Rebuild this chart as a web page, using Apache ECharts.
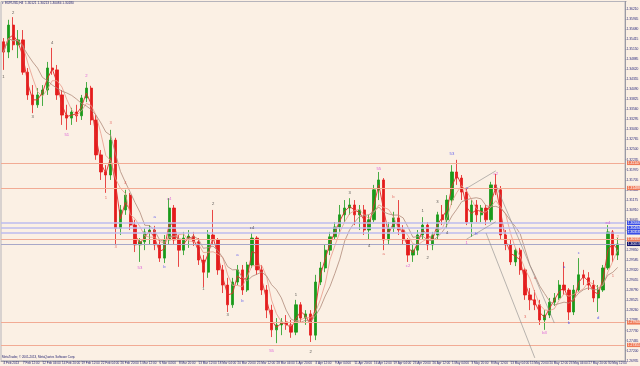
<!DOCTYPE html>
<html><head><meta charset="utf-8">
<script src="https://cdn.jsdelivr.net/npm/echarts@6/dist/echarts.min.js"></script>
<style>html,body{margin:0;padding:0;background:#fbf0e4}#c{width:640px;height:366px}</style>
</head><body><div id="c"></div><script>
// time-axis tick labels (every 16 H4 bars)
const tickLabels = ["4 Feb 2013","7 Feb 12:00","12 Feb 04:00","14 Feb 20:00","19 Feb 12:00","22 Feb 04:00","26 Feb 20:00","1 Mar 12:00","6 Mar 04:00","8 Mar 20:00","13 Mar 12:00","18 Mar 04:00","20 Mar 20:00","25 Mar 12:00","28 Mar 04:00","1 Apr 20:00","4 Apr 12:00","9 Apr 04:00","11 Apr 20:00","16 Apr 12:00","19 Apr 04:00","23 Apr 20:00","26 Apr 12:00","1 May 04:00","3 May 20:00","8 May 12:00","13 May 04:00","15 May 20:00","20 May 12:00","23 May 04:00","27 May 20:00","30 May 12:00"];

// EURUSD candles (each = 4 H4 bars)
const opens = [1.3534,1.3507,1.3578,1.3526,1.3539,1.3454,1.3394,1.3368,1.3394,1.3407,1.3465,1.3460,1.3394,1.3341,1.3333,1.3349,1.3339,1.3386,1.3412,1.3328,1.3236,1.3191,1.3183,1.3275,1.3043,1.3091,1.3130,1.3051,1.2999,1.3007,1.3033,1.3038,1.2999,1.2964,1.3012,1.3096,1.3012,1.2985,1.3017,1.3022,1.3007,1.2959,1.2927,1.3025,1.3012,1.2933,1.2893,1.2841,1.2901,1.2933,1.2880,1.2946,1.3017,1.2933,1.2880,1.2827,1.2775,1.2788,1.2796,1.2788,1.2769,1.2841,1.2806,1.2817,1.2761,1.2901,1.2938,1.2985,1.3020,1.3046,1.3078,1.3096,1.3104,1.3078,1.3091,1.3038,1.3065,1.3144,1.3170,1.3012,1.3043,1.3070,1.3038,1.3012,1.2972,1.2985,1.3025,1.3051,1.2999,1.3025,1.3078,1.3065,1.3117,1.3191,1.3175,1.3138,1.3059,1.3104,1.3078,1.3096,1.3065,1.3157,1.3144,1.3025,1.2999,1.2954,1.2985,1.2933,1.2867,1.2854,1.2841,1.2801,1.2814,1.2848,1.2859,1.2893,1.2880,1.2822,1.2880,1.2920,1.2912,1.2893,1.2859,1.2880,1.2938,1.3033,1.2972];
const highs = [1.3544,1.3592,1.3599,1.3565,1.3565,1.3465,1.3420,1.3412,1.3420,1.3481,1.3518,1.3473,1.3407,1.3368,1.3360,1.3368,1.3394,1.3428,1.3418,1.3341,1.3249,1.3209,1.3302,1.3281,1.3104,1.3144,1.3136,1.3065,1.3017,1.3043,1.3051,1.3049,1.3012,1.3025,1.3122,1.3104,1.3025,1.3033,1.3038,1.3033,1.3017,1.2972,1.3038,1.3091,1.3017,1.2946,1.2912,1.2912,1.2946,1.2946,1.2954,1.3030,1.3022,1.2946,1.2893,1.2841,1.2806,1.2806,1.2814,1.2801,1.2854,1.2848,1.2827,1.2827,1.2920,1.2954,1.2999,1.3033,1.3059,1.3104,1.3117,1.3122,1.3117,1.3104,1.3104,1.3078,1.3157,1.3191,1.3175,1.3059,1.3086,1.3117,1.3051,1.3017,1.2999,1.3038,1.3072,1.3059,1.3033,1.3086,1.3104,1.3130,1.3209,1.3223,1.3183,1.3149,1.3117,1.3117,1.3104,1.3104,1.3165,1.3186,1.3154,1.3038,1.3012,1.2991,1.2991,1.2938,1.2885,1.2880,1.2854,1.2827,1.2859,1.2872,1.2906,1.2954,1.2885,1.2893,1.2964,1.2933,1.2927,1.2906,1.2893,1.2946,1.3051,1.3038,1.3017];
const lows = [1.3460,1.3491,1.3512,1.3491,1.3447,1.3381,1.3346,1.3360,1.3365,1.3394,1.3447,1.3381,1.3315,1.3302,1.3315,1.3323,1.3328,1.3375,1.3315,1.3223,1.3170,1.3136,1.3170,1.2999,1.3025,1.3078,1.3038,1.2980,1.2954,1.2985,1.2999,1.2985,1.2954,1.2951,1.2999,1.2999,1.2941,1.2972,1.2991,1.2996,1.2946,1.2888,1.2912,1.2999,1.2920,1.2872,1.2822,1.2833,1.2893,1.2867,1.2875,1.2938,1.2920,1.2867,1.2806,1.2756,1.2740,1.2761,1.2775,1.2754,1.2761,1.2796,1.2788,1.2743,1.2748,1.2893,1.2927,1.2972,1.3012,1.3033,1.3059,1.3078,1.3051,1.3038,1.3025,1.3012,1.3059,1.3117,1.2985,1.2999,1.3033,1.3025,1.2999,1.2954,1.2954,1.2972,1.3012,1.2985,1.2985,1.3012,1.3051,1.3043,1.3104,1.3157,1.3117,1.3051,1.3020,1.3059,1.3059,1.3051,1.3059,1.3130,1.3012,1.2985,1.2946,1.2943,1.2920,1.2854,1.2827,1.2827,1.2788,1.2775,1.2806,1.2838,1.2854,1.2867,1.2801,1.2814,1.2875,1.2893,1.2880,1.2848,1.2822,1.2875,1.2933,1.2954,1.2959];
const closes = [1.3507,1.3578,1.3526,1.3539,1.3454,1.3394,1.3368,1.3394,1.3407,1.3465,1.3460,1.3394,1.3341,1.3333,1.3349,1.3339,1.3386,1.3412,1.3328,1.3236,1.3191,1.3183,1.3275,1.3043,1.3091,1.3130,1.3051,1.2999,1.3007,1.3033,1.3038,1.2999,1.2964,1.3012,1.3096,1.3012,1.2985,1.3017,1.3022,1.3007,1.2959,1.2927,1.3025,1.3012,1.2933,1.2893,1.2841,1.2901,1.2933,1.2880,1.2946,1.3017,1.2933,1.2880,1.2827,1.2775,1.2788,1.2796,1.2788,1.2769,1.2841,1.2806,1.2817,1.2761,1.2901,1.2938,1.2985,1.3020,1.3046,1.3078,1.3096,1.3104,1.3078,1.3091,1.3038,1.3065,1.3144,1.3170,1.3012,1.3043,1.3070,1.3038,1.3012,1.2972,1.2985,1.3025,1.3051,1.2999,1.3025,1.3078,1.3065,1.3117,1.3191,1.3175,1.3138,1.3059,1.3104,1.3078,1.3096,1.3065,1.3157,1.3144,1.3025,1.2999,1.2954,1.2985,1.2933,1.2867,1.2854,1.2841,1.2801,1.2814,1.2848,1.2859,1.2893,1.2880,1.2822,1.2880,1.2920,1.2912,1.2893,1.2859,1.2880,1.2938,1.3033,1.2972,1.3001];

// price-axis ticks
const yMin = 1.26935, yMax = 1.36402, yStep = 0.00265;

// horizontal levels and their kind
const levelPrices = [1.32147,1.31488,1.30566,1.30434,1.30316,1.30131,1.30013,1.27944,1.27351];
const levelKinds  = ['sr','sr','zone','zone','zone','sr','bid','sr','sr'];

// trend lines [startIndex, startPrice, endIndex, endPrice]
const trendLines = [[95.0,1.3148,101.2,1.3194],[95.0,1.3014,100.8,1.3060],[100.8,1.3157,112.5,1.2793],[99.2,1.3030,109.2,1.2701]];

// wave labels [index, price, text, degree]
const waves = [[0,1.3441,'1','k'],[2,1.3610,'2','k'],[6,1.3335,'3','k'],[10,1.3531,'4','k'],[13,1.3288,'51','m'],[17,1.3444,'2','m'],[21,1.3122,'1','r'],[22,1.3320,'3','r'],[23,1.2993,'3','r'],[25,1.3162,'4','r'],[28,1.2938,'53','m'],[31,1.3072,'a','b'],[33,1.2941,'b','b'],[34,1.3120,'c4','m'],[41,1.2883,'1','k'],[43,1.3107,'2','k'],[46,1.2814,'3','k'],[48,1.2972,'a','b'],[49,1.2851,'b','b'],[51,1.3043,'c4','k'],[55,1.2719,'55','m'],[60,1.2867,'1','k'],[63,1.2717,'2','k'],[71,1.3136,'3','k'],[75,1.2996,'4','k'],[77,1.3199,'55','m'],[78,1.2975,'a','r'],[80,1.3125,'b','r'],[83,1.2943,'c2','m'],[86,1.3088,'1','k'],[87,1.2964,'2','k'],[89,1.3112,'3','k'],[91,1.3030,'4','k'],[92,1.3238,'53','b'],[95,1.3149,'a','b'],[95,1.3004,'1','m'],[97,1.3028,'b','b'],[101,1.3186,'c2','m'],[107,1.2809,'3','r'],[109,1.2912,'a','r'],[111,1.2767,'b3','m'],[115,1.2941,'a','b'],[116,1.2793,'b','b'],[118,1.2978,'c','b'],[122,1.2806,'d','b'],[124,1.3057,'e4','m'],[125,1.2917,'1','r'],[126,1.3020,'2','r']];

const titleText = '\u25BE EURUSD,H4  1.30121 1.30213 1.30084 1.30180';
const copyText = 'MetaTrader, \u00A9 2001-2013, MetaQuotes Software Corp.';

// ---- build ----
const nCat = 128;
const categories = [];
for (let i = 0; i < nCat; i++) {
  categories.push(i % 4 === 0 && tickLabels[i / 4] ? tickLabels[i / 4] : 'c#' + i);
}
const candleData = opens.map((o, i) => [o, closes[i], lows[i], highs[i]]);
function ma(n) {
  return closes.map((v, i) => {
    const s = Math.max(0, i - n + 1);
    let sum = 0;
    for (let j = s; j <= i; j++) sum += closes[j];
    return +(sum / (i - s + 1)).toFixed(5);
  });
}
const levelStyle = {
  sr:   {line: '#f2ab94', w: 1,   tag: '#f07a58'},
  zone: {line: '#bcbcef', w: 1.6, tag: '#3a4ee6'},
  bid:  {line: '#a8a8c8', w: 1,   tag: '#16166e'}
};
const waveColor = {k: '#303030', m: '#d63cd6', r: '#e0504a', b: '#3c3cf0'};

const markData = levelPrices.map((p, i) => {
  const st = levelStyle[levelKinds[i]];
  return {
    yAxis: p,
    lineStyle: {color: st.line, width: st.w, type: 'solid'},
    label: {show: true, position: 'end', distance: 2, formatter: p.toFixed(5),
      color: '#ffffff', backgroundColor: st.tag, fontSize: 3.3, padding: [0.6, 0.8],
      fontFamily: 'Liberation Sans'}
  };
});
trendLines.forEach(t => {
  markData.push([
    {coord: [t[0], t[1]], lineStyle: {color: '#8a8a8a', width: 0.6, type: 'solid'}, label: {show: false}},
    {coord: [t[2], t[3]]}
  ]);
});

const chart = echarts.init(document.getElementById('c'), null, {renderer: 'canvas'});
chart.setOption({
  animation: false,
  backgroundColor: '#fbf0e4',
  grid: {left: 1, right: 15, top: 1.5, height: 359.28, show: true, outerBoundsMode: 'none', containLabel: false,
    borderColor: '#a4a4b0', borderWidth: 0.8, backgroundColor: 'transparent'},
  xAxis: {
    type: 'category', data: categories, boundaryGap: true,
    axisLine: {show: true, lineStyle: {color: '#8c8c98', width: 0.8}},
    axisTick: {show: true, interval: 3, alignWithLabel: true, length: 1.5, lineStyle: {color: '#8c8c98', width: 0.6}},
    axisLabel: {interval: 3, align: 'left', fontSize: 3.1, color: '#26267a', margin: 1.2, fontFamily: 'Liberation Sans',
      formatter: v => (v.indexOf('#') < 0 ? v : '')},
    splitLine: {show: false}
  },
  yAxis: {
    type: 'value', position: 'right', min: yMin, max: yMax, interval: yStep, scale: true,
    axisLine: {show: true, lineStyle: {color: '#8c8c98', width: 0.8}},
    axisTick: {show: true, length: 1.5, lineStyle: {color: '#8c8c98', width: 0.6}},
    axisLabel: {fontSize: 3.3, color: '#26267a', margin: 1.5, fontFamily: 'Liberation Sans',
      formatter: v => {
        const k = (v - yMin) / yStep;
        return Math.abs(k - Math.round(k)) < 1e-4 ? v.toFixed(5) : '';
      }},
    splitLine: {show: false}
  },
  graphic: [
    {type: 'text', left: 2, top: 2, style: {text: titleText, fill: '#1e1e6e', font: '3.2px "Liberation Sans"'}},
    {type: 'text', left: 2, top: 355.5, style: {text: copyText, fill: '#1e1e6e', font: '3px "Liberation Sans"'}}
  ],
  series: [
    {
      type: 'candlestick', data: candleData, barWidth: '58%',
      itemStyle: {color: '#1a9a1a', color0: '#e41c1c', borderColor: '#1a9a1a', borderColor0: '#e41c1c', borderWidth: 0.8},
      markLine: {silent: true, precision: 6, symbol: ['none', 'none'], animation: false, data: markData}
    },
    {type: 'line', data: ma(2), symbol: 'none', silent: true, lineStyle: {color: '#e02a2a', width: 0.9}, z: 3},
    {type: 'line', data: ma(4), symbol: 'none', silent: true, lineStyle: {color: '#e89a8a', width: 0.8}, z: 3},
    {type: 'line', data: ma(7), symbol: 'none', silent: true, lineStyle: {color: '#b08a7a', width: 0.8}, z: 3},
    {
      type: 'scatter', silent: true, symbolSize: 1, itemStyle: {color: 'rgba(0,0,0,0)'}, z: 5,
      data: waves.map(w => ({value: [w[0], w[1]], label: {color: waveColor[w[3]]}, name: w[2]})),
      label: {show: true, position: 'inside', fontSize: 4.2, fontFamily: 'Liberation Sans', formatter: p => p.name}
    }
  ]
});
</script></body></html>
